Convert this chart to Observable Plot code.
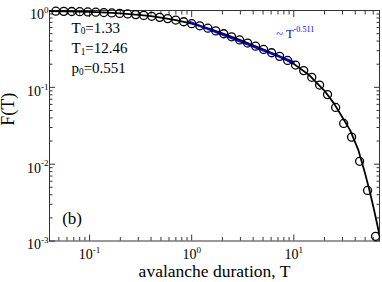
<!DOCTYPE html>
<html><head><meta charset="utf-8">
<script src="https://cdn.jsdelivr.net/npm/d3@7"></script>
<script src="https://cdn.jsdelivr.net/npm/@observablehq/plot@0.6"></script>
<style>body{margin:0;background:#fff}</style>
</head><body><div id="chart"></div>
<script>
// avalanche duration data (circles)
const durationT = [0.0467,0.0559,0.0669,0.0801,0.0960,0.115,0.138,0.165,0.197,0.236,0.283,0.339,0.406,0.486,0.582,0.698,0.835,1.00,1.20,1.44,1.72,2.06,2.46,2.95,3.53,4.23,5.07,6.07,7.27,8.70,10.4,12.5,15.0,17.9,21.4,25.7,30.8,36.8,44.1,52.8,63.2];
const fractionF = [0.979,0.975,0.971,0.965,0.958,0.950,0.941,0.930,0.917,0.902,0.884,0.864,0.841,0.814,0.784,0.751,0.714,0.674,0.632,0.588,0.543,0.498,0.455,0.414,0.377,0.343,0.311,0.282,0.253,0.224,0.195,0.165,0.135,0.107,0.0804,0.0547,0.0339,0.0225,0.0109,0.00455,0.00115];
// fitted curve (black line)
const fitT = [0.04,0.06,0.1,0.15,0.2,0.3,0.4,0.5,0.7,1,1.5,2,3,4,5,7,10,14,20,25,30,35.7,43,49,55.2,61.3,67.6,71];
const fitF = [0.982,0.974,0.957,0.936,0.916,0.878,0.843,0.810,0.750,0.674,0.577,0.505,0.411,0.353,0.313,0.259,0.202,0.146,0.0902,0.0604,0.0404,0.0275,0.0151,0.0083,0.00455,0.0025,0.00137,0.0010];
// power law segment (blue line)
const powerT = [0.96, 10];
const powerF = [0.707, 0.213];
// ticks
const xMajorTicks = [0.1, 1, 10];
const xMinorTicks = [0.05,0.06,0.07,0.08,0.09,0.2,0.3,0.4,0.5,0.6,0.7,0.8,0.9,2,3,4,5,6,7,8,9,20,30,40,50,60];
const yMajorTicks = [0.001, 0.01, 0.1, 1];
const yMinorTicks = [0.002,0.003,0.004,0.005,0.006,0.007,0.008,0.009,0.02,0.03,0.04,0.05,0.06,0.07,0.08,0.09,0.2,0.3,0.4,0.5,0.6,0.7,0.8,0.9];
// texts
const xLabel = "avalanche duration, T";
const yLabel = "F(T)";
const fitParams = ["T_{0}=1.33", "T_{1}=12.46", "p_{0}=0.551"];
const powerLabel = "~ T^{-0.511}";
const panelLabel = "(b)";

const points = durationT.map((t, i) => ({t, f: fractionF[i]}));
const fit = fitT.map((t, i) => ({t, f: fitF[i]}));
const power = powerT.map((t, i) => ({t, f: powerF[i]}));
const params = fitParams.map((s, i) => ({s, t: 0.0665, f: [0.597, 0.322, 0.175][i]}));
const fmt = d => `10^{${Math.round(Math.log10(d))}}`;
const ink = "#333";
const blue = "#0000ff";

const chart = Plot.plot({
  width: 382, height: 282,
  marginLeft: 49, marginRight: 3, marginTop: 10, marginBottom: 41.5,
  style: {fontFamily: '"Liberation Serif", "Times New Roman", serif', fontSize: "14px", background: "#fff", color: "#000", overflow: "visible"},
  x: {type: "log", domain: [0.0405, 69.1], label: null},
  y: {type: "log", domain: [0.001, 1], label: null},
  marks: [
    Plot.frame({stroke: ink}),
    Plot.axisX(xMinorTicks, {anchor: "bottom", tickSize: -3.5, tickFormat: () => "", label: null, stroke: ink}),
    Plot.axisX(xMajorTicks, {anchor: "bottom", tickSize: -6, tickFormat: () => "", label: null, stroke: ink}),
    Plot.axisX(xMinorTicks, {anchor: "top", tickSize: -3.5, tickFormat: () => "", label: null, stroke: ink}),
    Plot.axisX(xMajorTicks, {anchor: "top", tickSize: -6, tickFormat: () => "", label: null, stroke: ink}),
    Plot.axisY(yMinorTicks, {anchor: "left", tickSize: -3.5, tickFormat: () => "", label: null, stroke: ink}),
    Plot.axisY(yMajorTicks, {anchor: "left", tickSize: -6, tickFormat: () => "", label: null, stroke: ink}),
    Plot.axisY(yMinorTicks, {anchor: "right", tickSize: -3.5, tickFormat: () => "", label: null, stroke: ink}),
    Plot.axisY(yMajorTicks, {anchor: "right", tickSize: -6, tickFormat: () => "", label: null, stroke: ink}),
    Plot.axisX(xMajorTicks, {anchor: "bottom", tickSize: 0, tickPadding: 8.5, tickFormat: fmt, label: null, fontSize: 14, fill: "#000"}),
    Plot.axisY(yMajorTicks, {anchor: "left", tickSize: 0, tickPadding: 1, dy: 4, tickFormat: fmt, label: null, fontSize: 14, fill: "#000"}),
    Plot.line(fit, {x: "t", y: "f", stroke: "#000", strokeWidth: 1.8, clip: true}),
    Plot.line(power, {x: "t", y: "f", stroke: blue, strokeWidth: 2.2}),
    Plot.dot(points, {x: "t", y: "f", r: 4, stroke: "#000", strokeWidth: 1.3, fill: "none"}),
    Plot.text(params, {x: "t", y: "f", text: "s", textAnchor: "start", fontSize: 15, fill: "#000"}),
    Plot.text([powerLabel], {x: () => 6.74, y: () => 0.497, text: d => d, textAnchor: "start", fontSize: 12.5, fill: blue}),
    Plot.text([panelLabel], {x: () => 0.0539, y: () => 0.00197, text: d => d, textAnchor: "start", fontSize: 17, fill: "#000"}),
    Plot.text([xLabel], {frameAnchor: "bottom", dy: 36.2, text: d => d, fontSize: 17.5, fill: "#000"}),
    Plot.text([yLabel], {frameAnchor: "left", rotate: -90, dx: -40.8, text: d => d, fontSize: 18, fill: "#000"})
  ]
});
document.getElementById("chart").appendChild(chart);

function rich(el) {
  const s = el.textContent;
  if (!/[\^_]\{/.test(s) || el.querySelector("tspan")) return;
  const fs = parseFloat(getComputedStyle(el).fontSize) || 14;
  while (el.firstChild) el.removeChild(el.firstChild);
  const re = /([\^_])\{([^}]*)\}|([^\^_]+)/g;
  let m, cur = 0;
  while ((m = re.exec(s))) {
    const t = document.createElementNS("http://www.w3.org/2000/svg", "tspan");
    let target = 0, size = null;
    if (m[1] === "^") { target = -0.45 * fs; size = 0.65 * fs; t.textContent = m[2]; }
    else if (m[1] === "_") { target = 0.12 * fs; size = 0.62 * fs; t.textContent = m[2]; }
    else { t.textContent = m[3]; }
    if (size) t.setAttribute("font-size", size);
    if (target !== cur) t.setAttribute("dy", target - cur);
    cur = target;
    el.appendChild(t);
  }
}
chart.querySelectorAll("text").forEach(rich);
</script>
</body></html>
